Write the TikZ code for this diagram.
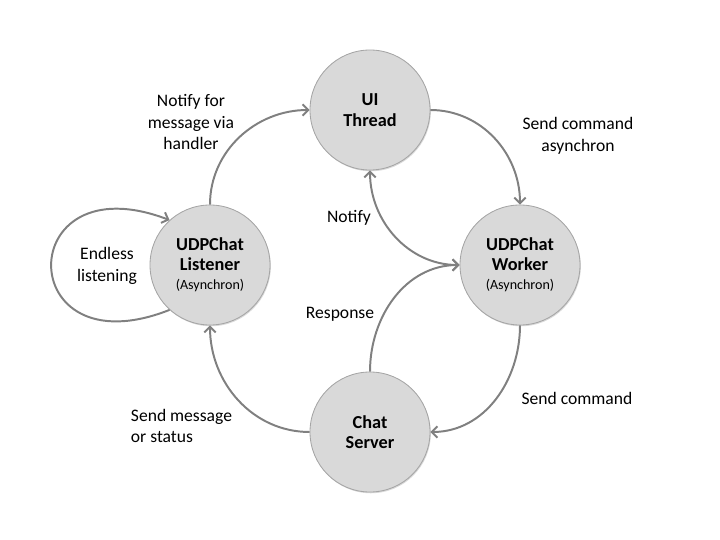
\documentclass[tikz,border=0pt]{standalone}
\usepackage{fontspec}
\setmainfont{Carlito}
\usepackage{tikz}
\usetikzlibrary{arrows.meta,shadows}
\definecolor{nodegray}{HTML}{D9D9D9}
\definecolor{rimgray}{HTML}{A5A5A5}
\definecolor{arrgray}{HTML}{808080}
\newcommand{\asyn}{\fontsize{10}{12}\selectfont\mdseries(Asynchron)}

\begin{document}
\begin{tikzpicture}[>={Straight Barb[length=4pt,width=8pt]},
  every node/.style={font=\fontsize{12.5}{15.5}\selectfont},
  st/.style={circle,minimum size=3cm,inner sep=0pt,align=center,fill=nodegray,draw=rimgray,line width=.6pt,
    drop shadow={opacity=.3,shadow xshift=.6pt,shadow yshift=-.9pt},font=\fontsize{13}{14.5}\selectfont\bfseries},
  a/.style={->,draw=arrgray,line width=1.4pt}]
\useasboundingbox (0,0) rectangle (18,13.5);
% states
\node[st] (u) at (9.25,10.75) {UI\\Thread};
\node[st] (l) at (5.25,6.875) {UDPChat\\Listener\\[-1pt]{\asyn}};
\node[st] (w) at (13,6.875) {UDPChat\\Worker\\[-1pt]{\asyn}};
\node[st] (s) at (9.25,2.7) {Chat\\Server};
% labels
\node[align=center] (nh) at (4.775,10.45) {Notify for\\message via\\handler};
\node[align=center] (sa) at (14.45,10.1) {Send command\\asynchron};
\node (nt) at (8.725,8.05) {Notify};
\node[align=center] (el) at (2.675,6.85) {Endless\\listening};
\node (rs) at (8.5,5.65) {Response};
\node[align=left,anchor=west] (sm) at (3.15,2.85) {Send message\\or status};
\node (sc) at (14.425,3.55) {Send command};
% connectors
\draw[a] (l.north) to[out=90,in=180] (u.west);\draw[a] (u.east) to[out=0,in=90] (w.north);
\draw[a,<->] (u.south) to[out=-90,in=180] (w.west);\draw[a] (s.north) to[out=90,in=180] (w.west);
\draw[a] (w.south) to[out=-90,in=0] (s.east);\draw[a] (s.west) to[out=180,in=-90] (l.south);
\draw[a] (l.228) .. controls (0.3,4.2) and (0.3,9.5) .. (l.132);
\end{tikzpicture}
\end{document}
